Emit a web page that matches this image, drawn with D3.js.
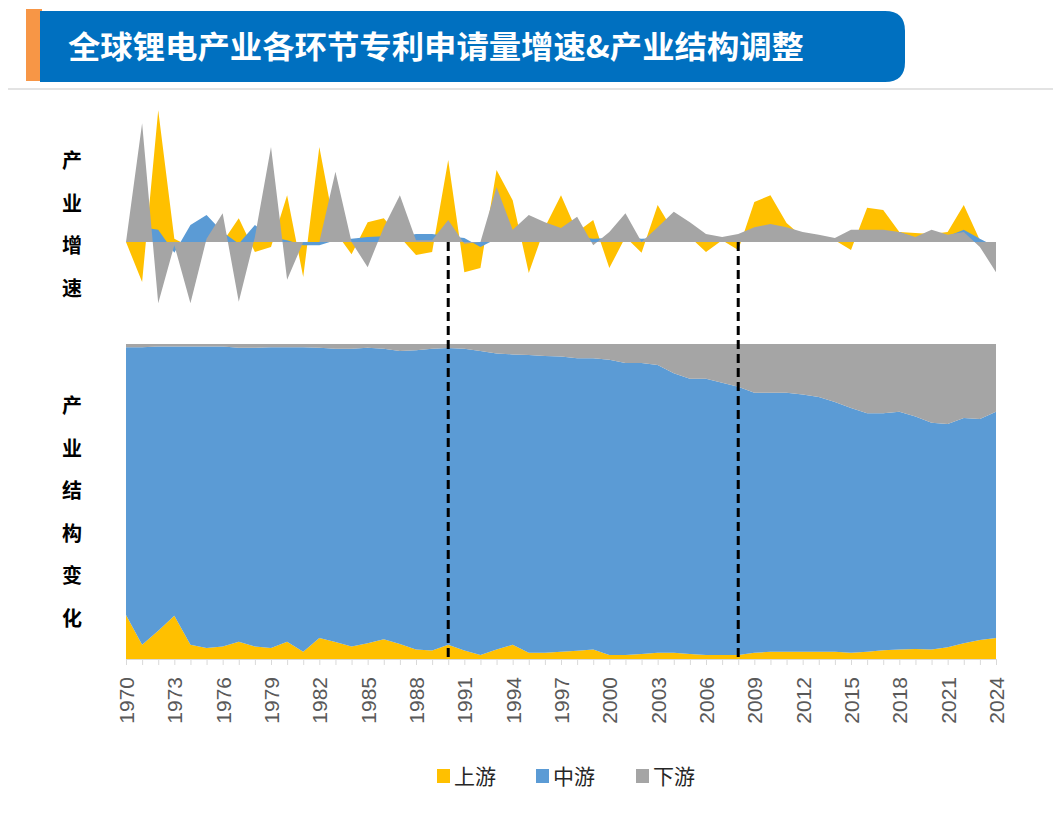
<!DOCTYPE html>
<html>
<head>
<meta charset="utf-8">
<script src="https://cdn.jsdelivr.net/npm/d3@7"></script>
<style>
  body { margin: 0; background: #fff; }
  svg { display: block; }
</style>
</head>
<body>
<script>
// ---- data ----
const years = d3.range(1970, 2025);
const tickYears = [1970, 1973, 1976, 1979, 1982, 1985, 1988, 1991, 1994, 1997, 2000, 2003, 2006, 2009, 2012, 2015, 2018, 2021, 2024];
const seriesNames = ["上游", "中游", "下游"];

// growth rate (%) of patent applications, by segment
const growthUp = [0, -89, 293, 7, -11, 18, 0, 53, -22, -11, 104, -78, 211, 22, -27, 44, 53, 11, -29, -22,
  182, -67, -58, 160, 93, -69, 33, 104, 22, 49, -58, 11, -24, 82, 22, 11, -22, 4, -18, 89,
  104, 42, 11, 11, 4, -18, 76, 71, 22, 20, 18, 22, 82, 4, -22];
const growthMid = [0, 33, 27, -24, 38, 60, 22, -4, 38, 11, 4, -7, -7, 4, 7, 11, 13, 11, 18, 18,
  13, 9, -11, 7, 11, 18, 18, 27, 11, 7, 9, 11, 7, 9, 9, 7, 4, 7, 4, 7,
  9, 9, 7, 7, 4, 7, 9, 11, 22, 9, 11, 13, 27, 7, -11];
const growthDown = [0, 264, -136, -7, -136, 7, 64, -133, 11, 211, -84, 0, 0, 156, 0, -56, 33, 104, 4, 4,
  49, -4, 0, 122, 27, 60, 44, 31, 56, -7, 22, 64, 0, 33, 67, 44, 18, 11, 18, 33,
  40, 33, 22, 16, 9, 27, 27, 27, 22, 11, 27, 16, 22, -11, -67];

// share (%) of each segment in yearly applications
const shareUp = [14, 4.5, 9, 13.7, 4.5, 3.5, 4, 5.5, 4, 3.5, 5.5, 2.3, 6.7, 5.4, 4, 5, 6.3, 4.8, 3, 2.7,
  4.5, 2.7, 1.3, 3, 4.5, 2, 2, 2.3, 2.6, 3, 1.3, 1.3, 1.6, 2, 2, 1.6, 1.3, 1.3, 1.3, 2,
  2.3, 2.3, 2.3, 2.3, 2.3, 2, 2.3, 2.8, 3, 3.2, 3, 3.7, 5, 6, 6.7];
const shareMid = [85, 94.5, 90.2, 85.5, 94.7, 95.7, 95.2, 93.3, 94.8, 95.5, 93.5, 96.7, 92.1, 93.1, 94.5, 93.8, 92.2, 93, 95, 95.8,
  94.2, 95.8, 96.5, 94, 92.2, 94.5, 94.2, 93.7, 92.9, 92.5, 93.7, 92.7, 92.4, 91.3, 88.7, 87.4, 87.7, 86.4, 85.1, 82.5,
  82.2, 82.2, 81.7, 80.9, 79.3, 77.7, 75.7, 75.2, 75.5, 73.8, 72, 70.9, 71.5, 70.2, 71.8];
const shareDown = [1, 1, 0.8, 0.8, 0.8, 0.8, 0.8, 1.2, 1.2, 1, 1, 1, 1.2, 1.5, 1.5, 1.2, 1.5, 2.2, 2, 1.5,
  1.3, 1.5, 2.2, 3, 3.3, 3.5, 3.8, 4, 4.5, 4.5, 5, 6, 6, 6.7, 9.3, 11, 11, 12.3, 13.6, 15.5,
  15.5, 15.5, 16, 16.8, 18.4, 20.3, 22, 22, 21.5, 23, 25, 25.4, 23.5, 23.8, 21.5];

const markYears = [1990, 2008];
const title = "全球锂电产业各环节专利申请量增速&产业结构调整";
const sideLabels = ["产业增速", "产业结构变化"];

const colors = ["#FFC000", "#5B9BD5", "#A5A5A5"];

// ---- svg ----
const width = 1053, height = 823;
const svg = d3.select("body").append("svg")
  .attr("width", width)
  .attr("height", height);

// frame line under banner
svg.append("line")
  .attr("x1", 8).attr("x2", width).attr("y1", 89).attr("y2", 89)
  .attr("stroke", "#e3e3e3").attr("stroke-width", 2);

// title banner
svg.append("rect")
  .attr("x", 26).attr("y", 9).attr("width", 16).attr("height", 72)
  .attr("fill", "#F79646");
const bx0 = 40, bx1 = 905, by0 = 11, by1 = 82, r = 20;
svg.append("path")
  .attr("d", `M${bx0},${by0} H${bx1 - r} Q${bx1},${by0} ${bx1},${by0 + r} V${by1 - r} Q${bx1},${by1} ${bx1 - r},${by1} H${bx0} Z`)
  .attr("fill", "#0070C0");
svg.append("text")
  .attr("x", 68).attr("y", 58)
  .attr("font-family", "'Noto Sans CJK SC', sans-serif")
  .attr("font-weight", "bold")
  .attr("font-size", 31)
  .attr("fill", "#fff")
  .attr("textLength", 736)
  .attr("lengthAdjust", "spacingAndGlyphs")
  .text(title);

// ---- scales ----
const x = d3.scaleLinear().domain([1970, 2024]).range([126, 996]);
const yTop = d3.scaleLinear().domain([-150, 300]).range([309.5, 107]);
const yBot = d3.scaleLinear().domain([0, 1]).range([659, 344]);

// ---- top chart: growth areas (overlapping) ----
const growth = [growthUp, growthMid, growthDown];
const topArea = d3.area()
  .x((d, i) => x(years[i]))
  .y0(yTop(0))
  .y1(d => yTop(d));

svg.append("g").selectAll("path")
  .data(growth)
  .join("path")
  .attr("fill", (d, i) => colors[i])
  .attr("d", topArea);

// ---- bottom chart: 100% stacked areas ----
const table = years.map((yr, i) => ({ year: yr, "上游": shareUp[i], "中游": shareMid[i], "下游": shareDown[i] }));
const stacked = d3.stack()
  .keys(seriesNames)
  .offset(d3.stackOffsetExpand)(table);

const botArea = d3.area()
  .x(d => x(d.data.year))
  .y0(d => yBot(d[0]))
  .y1(d => yBot(d[1]));

svg.append("g").selectAll("path")
  .data(stacked)
  .join("path")
  .attr("fill", (d, i) => colors[i])
  .attr("d", botArea);

// ---- x axis ----
const axis = svg.append("g")
  .attr("transform", `translate(0,${yBot(0)})`)
  .call(d3.axisBottom(x)
    .tickValues(years)
    .tickSize(6)
    .tickFormat(d => tickYears.includes(d) ? d : ""));
axis.select(".domain").attr("stroke", "#d9d9d9");
axis.selectAll(".tick line").attr("stroke", "#d9d9d9");
axis.selectAll(".tick text")
  .attr("transform", "rotate(-90)")
  .attr("x", -18)
  .attr("y", 0)
  .attr("dy", "0.36em")
  .attr("text-anchor", "end")
  .attr("font-family", "'Liberation Sans', Arial, sans-serif")
  .attr("font-size", 21)
  .attr("fill", "#595959");

// ---- dashed markers ----
svg.append("g").selectAll("line")
  .data(markYears)
  .join("line")
  .attr("x1", d => x(d)).attr("x2", d => x(d))
  .attr("y1", yTop(0)).attr("y2", yBot(0))
  .attr("stroke", "#000")
  .attr("stroke-width", 3)
  .attr("stroke-dasharray", "9,5");

// ---- side labels ----
const sideY = [160, 405];
sideLabels.forEach((lab, k) => {
  svg.append("g").selectAll("text")
    .data(lab.split(""))
    .join("text")
    .attr("x", 72)
    .attr("y", (d, i) => sideY[k] + i * 42.5 + 8)
    .attr("text-anchor", "middle")
    .attr("font-family", "'Noto Sans CJK SC', sans-serif")
    .attr("font-weight", "bold")
    .attr("font-size", 20)
    .attr("fill", "#000")
    .text(d => d);
});

// ---- legend ----
const legendX = [437, 536, 636];
const legend = svg.append("g").selectAll("g")
  .data(seriesNames)
  .join("g")
  .attr("transform", (d, i) => `translate(${legendX[i]},776)`);
legend.append("rect")
  .attr("x", 0).attr("y", -7).attr("width", 13).attr("height", 14)
  .attr("fill", (d, i) => colors[i]);
legend.append("text")
  .attr("x", 17).attr("y", 8)
  .attr("font-family", "'Noto Sans CJK SC', sans-serif")
  .attr("font-size", 21)
  .attr("fill", "#262626")
  .text(d => d);
</script>
</body>
</html>
